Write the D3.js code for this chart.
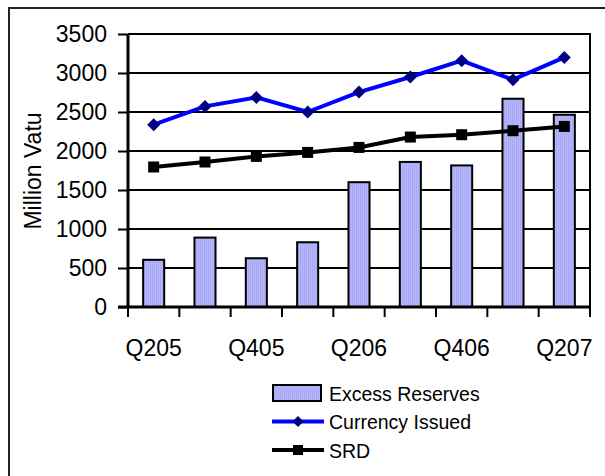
<!DOCTYPE html>
<html>
<head>
<meta charset="utf-8">
<script src="https://cdn.jsdelivr.net/npm/d3@7/dist/d3.min.js"></script>
<style>
  html, body { margin: 0; padding: 0; background: #fff; }
  svg { display: block; font-family: "Liberation Sans", Arial, sans-serif; }
</style>
</head>
<body>
<svg id="chart" width="605" height="476"></svg>
<script>
// Quarterly series, million vatu
const quarters = ["Q205", "Q305", "Q405", "Q106", "Q206", "Q306", "Q406", "Q107", "Q207"];
const excessReserves = [605, 890, 625, 830, 1600, 1860, 1815, 2670, 2465];
const currencyIssued = [2337, 2572, 2687, 2500, 2756, 2949, 3158, 2914, 3200];
const srd = [1795, 1859, 1931, 1982, 2046, 2179, 2209, 2260, 2315];
const yTicks = [0, 500, 1000, 1500, 2000, 2500, 3000, 3500];
const shownQuarterLabels = ["Q205", "Q405", "Q206", "Q406", "Q207"];
const legendLabels = ["Excess Reserves", "Currency Issued", "SRD"];

const svg = d3.select("#chart");
const plot = { left: 128, right: 590, top: 34, bottom: 307 };

// Outer frame (top and left edges fall inside the canvas)
svg.append("path")
  .attr("d", "M9,476 L9,8 L605,8")
  .attr("fill", "none").attr("stroke", "#222").attr("stroke-width", 2);

// Striped fill for the bars
const defs = svg.append("defs");
const pat = defs.append("pattern").attr("id", "barFill")
  .attr("patternUnits", "userSpaceOnUse").attr("width", 2).attr("height", 2);
pat.append("rect").attr("width", 2).attr("height", 2).attr("fill", "#b6b6fc");
pat.append("rect").attr("width", 1).attr("height", 2).attr("fill", "#a9a9f4");

const x = d3.scaleBand().domain(quarters).range([plot.left, plot.right]);
const y = d3.scaleLinear().domain([0, 3500]).range([plot.bottom, plot.top]);

// Horizontal gridlines
svg.append("g").selectAll("line").data(yTicks.filter(d => d > 0)).join("line")
  .attr("x1", plot.left).attr("x2", plot.right)
  .attr("y1", d => y(d)).attr("y2", d => y(d))
  .attr("stroke", "#000").attr("stroke-width", 2);

// Right edge of the plot area
svg.append("line")
  .attr("x1", plot.right).attr("x2", plot.right)
  .attr("y1", plot.top - 1).attr("y2", plot.bottom)
  .attr("stroke", "#000").attr("stroke-width", 2);

// Bars
const barW = x.bandwidth() * 0.41;
svg.append("g").selectAll("rect").data(quarters).join("rect")
  .attr("x", (q) => x(q) + (x.bandwidth() - barW) / 2)
  .attr("y", (q, i) => y(excessReserves[i]))
  .attr("width", barW)
  .attr("height", (q, i) => y(0) - y(excessReserves[i]))
  .attr("fill", "url(#barFill)")
  .attr("stroke", "#000").attr("stroke-width", 2);

// Y axis
const yAxis = svg.append("g").attr("transform", `translate(${plot.left},0)`)
  .call(d3.axisLeft(y).tickValues(yTicks).tickSize(10).tickPadding(11).tickFormat(d3.format("d")));
yAxis.select(".domain").attr("stroke", "#000").attr("stroke-width", 3)
  .attr("d", `M0,${plot.top}V${plot.bottom}`);
yAxis.selectAll(".tick line").attr("stroke", "#000").attr("stroke-width", 2);
yAxis.selectAll(".tick text").attr("font-size", 23).attr("fill", "#000")
  .attr("font-family", "Liberation Sans, Arial, sans-serif");

// X axis: ticks between categories, labels on alternate quarters
const xAxisG = svg.append("g").attr("transform", `translate(0,${plot.bottom})`);
xAxisG.append("line").attr("x1", plot.left - 10).attr("x2", plot.right)
  .attr("stroke", "#000").attr("stroke-width", 3);
const boundaries = quarters.map(q => x(q)).concat([x(quarters[quarters.length - 1]) + x.bandwidth()]);
xAxisG.selectAll("line.tk").data(boundaries).join("line").attr("class", "tk")
  .attr("x1", d => d).attr("x2", d => d).attr("y1", 0).attr("y2", 10)
  .attr("stroke", "#000").attr("stroke-width", 2);
xAxisG.selectAll("text").data(shownQuarterLabels).join("text")
  .attr("x", d => x(d) + x.bandwidth() / 2).attr("y", 49)
  .attr("text-anchor", "middle").attr("font-size", 23).attr("fill", "#000")
  .text(d => d);

// Axis title
svg.append("text")
  .attr("transform", "translate(41,171) rotate(-90)")
  .attr("text-anchor", "middle").attr("font-size", 23).attr("fill", "#000")
  .text("Million Vatu");

const cx = (q) => x(q) + x.bandwidth() / 2;
const lineGen = (vals) => d3.line().x((q) => cx(q)).y((q, i) => y(vals[i]))(quarters);

// SRD line
svg.append("path").attr("d", lineGen(srd))
  .attr("fill", "none").attr("stroke", "#000").attr("stroke-width", 4);
svg.append("g").selectAll("rect").data(quarters).join("rect")
  .attr("x", q => cx(q) - 5.5).attr("y", (q, i) => y(srd[i]) - 5.5)
  .attr("width", 11).attr("height", 11).attr("fill", "#000");

// Currency Issued line
svg.append("path").attr("d", lineGen(currencyIssued))
  .attr("fill", "none").attr("stroke", "#0000ff").attr("stroke-width", 4);
const diamond = (s) => `M0,${-s}L${s},0L0,${s}L${-s},0Z`;
svg.append("g").selectAll("path").data(quarters).join("path")
  .attr("transform", (q, i) => `translate(${cx(q)},${y(currencyIssued[i])})`)
  .attr("d", diamond(6.5)).attr("fill", "#000080");

// Legend
const lg = svg.append("g");
lg.append("rect").attr("x", 273).attr("y", 385).attr("width", 48).attr("height", 16)
  .attr("fill", "url(#barFill)").attr("stroke", "#000").attr("stroke-width", 2);
lg.append("line").attr("x1", 272).attr("x2", 324).attr("y1", 421.5).attr("y2", 421.5)
  .attr("stroke", "#0000ff").attr("stroke-width", 4);
lg.append("path").attr("transform", "translate(298,421.5)").attr("d", diamond(5.5)).attr("fill", "#000080");
lg.append("line").attr("x1", 272).attr("x2", 324).attr("y1", 450).attr("y2", 450)
  .attr("stroke", "#000").attr("stroke-width", 4);
lg.append("rect").attr("x", 293).attr("y", 445).attr("width", 10).attr("height", 10).attr("fill", "#000");
lg.selectAll("text").data(legendLabels).join("text")
  .attr("x", 329).attr("y", (d, i) => 400.5 + i * 28.5)
  .attr("font-size", 19.5).attr("fill", "#000")
  .text(d => d);
</script>
</body>
</html>
